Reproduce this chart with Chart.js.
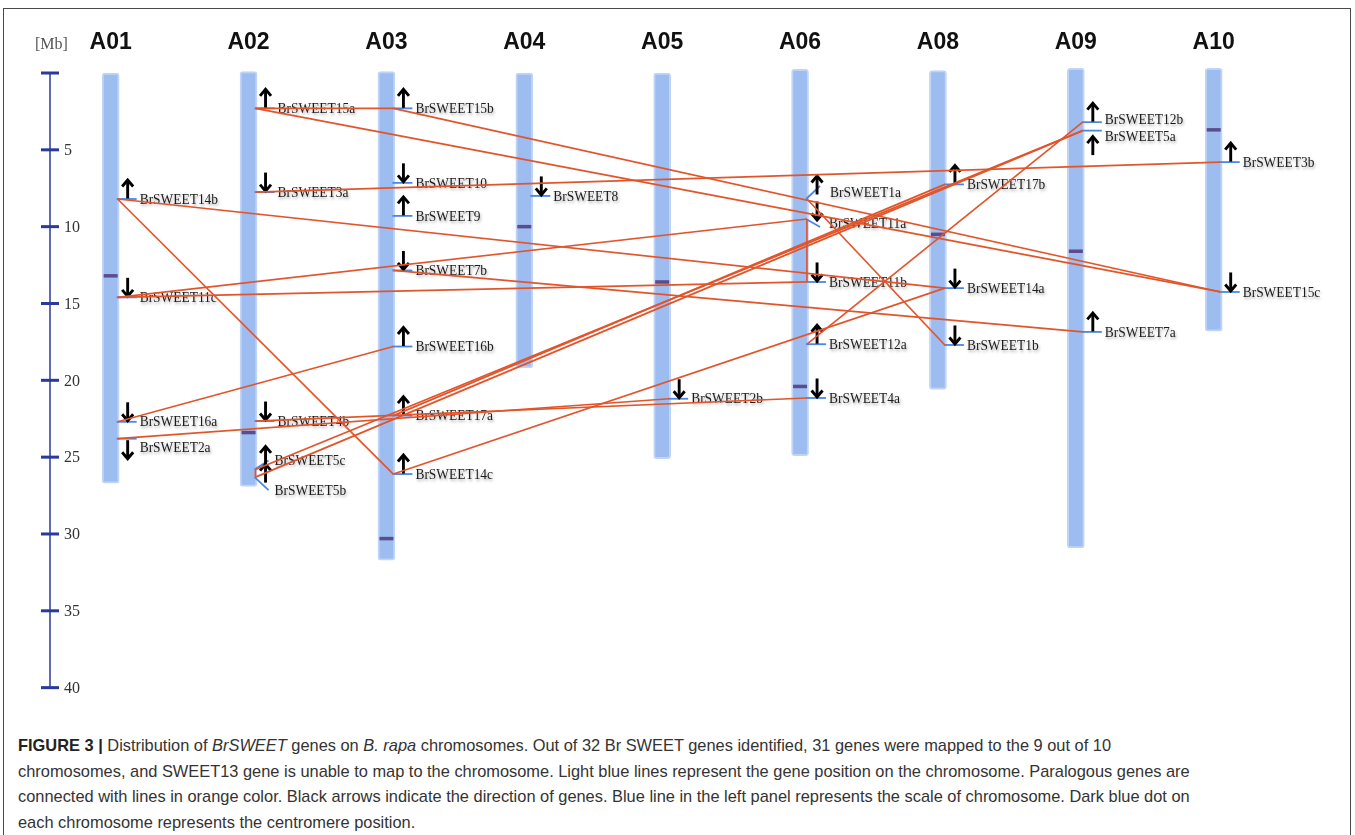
<!DOCTYPE html>
<html>
<head>
<meta charset="utf-8">
<title>Distribution of BrSWEET genes on B. rapa chromosomes</title>
<script src="https://cdn.jsdelivr.net/npm/chart.js@4.4.1/dist/chart.umd.min.js"></script>
<style>
  html, body { margin: 0; padding: 0; background: #fff; }
  body { width: 1355px; height: 835px; position: relative; overflow: hidden; }
  #frame {
    position: absolute; left: 3px; top: 8px; width: 1348px; height: 860px;
    border-left: 1.5px solid #4a4a4a; border-top: 1.5px solid #4a4a4a; border-right: 1.5px solid #4a4a4a;
    box-sizing: border-box;
  }
  #wrap { position: absolute; left: 0; top: 0; width: 1355px; height: 720px; }
  #caption {
    position: absolute; left: 18px; top: 733px; white-space: nowrap;
    font-family: "Liberation Sans", Arial, sans-serif; font-size: 16.4px; line-height: 25.5px; color: #333;
  }
  #caption b { color: #222; }
</style>
</head>
<body>
<div id="frame"></div>
<div id="wrap"><canvas id="chart"></canvas></div>
<div id="caption">
  <b>FIGURE 3 |</b> Distribution of <i>BrSWEET</i> genes on <i>B. rapa</i> chromosomes. Out of 32 Br SWEET genes identified, 31 genes were mapped to the 9 out of 10<br>
  chromosomes, and SWEET13 gene is unable to map to the chromosome. Light blue lines represent the gene position on the chromosome. Paralogous genes are<br>
  connected with lines in orange color. Black arrows indicate the direction of genes. Blue line in the left panel represents the scale of chromosome. Dark blue dot on<br>
  each chromosome represents the centromere position.
</div>
<script>
// Chromosomes (Mb)
const CHROMOSOMES   = ['A01', 'A02', 'A03', 'A04', 'A05', 'A06', 'A08', 'A09', 'A10'];
const CHROM_START   = [0.0, -0.1, -0.1, 0.0, 0.0, -0.24, -0.15, -0.3, -0.3];
const CHROM_END     = [26.7, 26.9, 31.7, 19.2, 25.1, 24.9, 20.6, 30.9, 16.8];
const CENTROMERE_MB = [13.2, 23.4, 30.3, 10.0, 13.6, 20.4, 10.5, 11.6, 3.7];

// Genes: name, chromosome index, position (Mb), strand (1 = forward, -1 = reverse)
const GENE_NAMES = [
  'BrSWEET14b', 'BrSWEET11c', 'BrSWEET16a', 'BrSWEET2a',
  'BrSWEET15a', 'BrSWEET3a', 'BrSWEET4b', 'BrSWEET5c', 'BrSWEET5b',
  'BrSWEET15b', 'BrSWEET10', 'BrSWEET9', 'BrSWEET7b', 'BrSWEET16b', 'BrSWEET17a', 'BrSWEET14c',
  'BrSWEET8',
  'BrSWEET2b',
  'BrSWEET1a', 'BrSWEET11a', 'BrSWEET11b', 'BrSWEET12a', 'BrSWEET4a',
  'BrSWEET17b', 'BrSWEET14a', 'BrSWEET1b',
  'BrSWEET12b', 'BrSWEET5a', 'BrSWEET7a',
  'BrSWEET3b', 'BrSWEET15c'
];
const GENE_CHROM = [
  0, 0, 0, 0,
  1, 1, 1, 1, 1,
  2, 2, 2, 2, 2, 2, 2,
  3,
  4,
  5, 5, 5, 5, 5,
  6, 6, 6,
  7, 7, 7,
  8, 8
];
const GENE_MB = [
  8.2, 14.6, 22.7, 23.8,
  2.3, 7.75, 22.65, 25.8, 26.3,
  2.3, 7.15, 9.3, 12.85, 17.8, 22.3, 26.1,
  8.0,
  21.2,
  8.2, 9.5, 13.6, 17.65, 21.15,
  7.25, 14.0, 17.7,
  3.2, 3.75, 16.85,
  5.8, 14.25
];
const GENE_STRAND = [
  1, -1, -1, -1,
  1, -1, -1, 1, 1,
  1, -1, 1, -1, 1, 1, 1,
  -1,
  -1,
  1, -1, -1, 1, -1,
  1, -1, -1,
  1, 1, 1,
  1, -1
];

// Paralogous gene pairs
const PARALOG_PAIRS = [
  ['BrSWEET15a', 'BrSWEET15b'], ['BrSWEET15a', 'BrSWEET15c'], ['BrSWEET15b', 'BrSWEET15c'],
  ['BrSWEET3a', 'BrSWEET3b'],
  ['BrSWEET14b', 'BrSWEET14a'], ['BrSWEET14b', 'BrSWEET14c'], ['BrSWEET14c', 'BrSWEET14a'],
  ['BrSWEET11c', 'BrSWEET11a'], ['BrSWEET11c', 'BrSWEET11b'], ['BrSWEET11a', 'BrSWEET11b'],
  ['BrSWEET16a', 'BrSWEET16b'],
  ['BrSWEET2a', 'BrSWEET2b'], ['BrSWEET4b', 'BrSWEET4a'],
  ['BrSWEET7b', 'BrSWEET7a'],
  ['BrSWEET17a', 'BrSWEET17b'],
  ['BrSWEET5c', 'BrSWEET5a'], ['BrSWEET5b', 'BrSWEET5a'], ['BrSWEET5c', 'BrSWEET5b'],
  ['BrSWEET1a', 'BrSWEET1b'],
  ['BrSWEET12a', 'BrSWEET12b']
];

// Scale bar
const SCALE_TICKS  = [0, 5, 10, 15, 20, 25, 30, 35, 40];
const SCALE_LABELS = ['', '5', '10', '15', '20', '25', '30', '35', '40'];
const SCALE_UNIT = '[Mb]';

// ---- styling / layout (pixels) ----
const LINK_DX = 0.05;          // link anchor: right edge of the chromosome, in x units
const RULER_AT = -0.44;        // x position of the scale bar
const TICK_X0 = 6, TICK_X1 = 26, ARROW_X = 17, LABEL_X = 29;
// hand-placed labels/arrows where genes are crowded
const PLACEMENT = {
  BrSWEET2a:  { label: 9,  arrow: 11 },
  BrSWEET5a:  { label: 6,  arrow: 15 },
  BrSWEET5c:  { label: -9, tick: -9, arrow: -14, lx: -3 },
  BrSWEET5b:  { label: 13, tick: 13, arrow: -4, lx: -3 },
  BrSWEET1a:  { label: -7, tick: -13, arrow: -14, lx: 1 },
  BrSWEET11a: { label: 4,  tick: 8,  arrow: -8 },
  BrSWEET12b: { label: -3 }
};

const SERIF = '"Liberation Serif", "Times New Roman", serif';
const geneIndex = Object.fromEntries(GENE_NAMES.map((n, i) => [n, i]));

const linkDatasets = PARALOG_PAIRS.map(([a, b]) => {
  const ia = geneIndex[a], ib = geneIndex[b];
  return {
    type: 'line',
    label: a + ' - ' + b,
    data: [
      { x: GENE_CHROM[ia] + LINK_DX, y: GENE_MB[ia] },
      { x: GENE_CHROM[ib] + LINK_DX, y: GENE_MB[ib] }
    ],
    borderColor: '#e2552b',
    borderWidth: 1.7,
    pointRadius: 0,
    fill: false,
    order: 0,
    clip: false
  };
});

function drawArrow(ctx, x, yc, up) {
  const half = 9.5;
  const tip = up ? yc - half : yc + half;
  const tail = up ? yc + half : yc - half;
  const s = up ? 1 : -1;
  ctx.beginPath();
  ctx.moveTo(x, tail);
  ctx.lineTo(x, tip + s * 1.5);
  ctx.stroke();
  ctx.beginPath();
  ctx.moveTo(x - 5.5, tip + s * 7);
  ctx.lineTo(x, tip + s * 0.5);
  ctx.lineTo(x + 5.5, tip + s * 7);
  ctx.stroke();
}

const genePlugin = {
  id: 'genes',
  afterDatasetDraw(chart, args) {
    if (args.index !== 1) return;  // right after the centromeres, beneath the links
    const ctx = chart.ctx, xs = chart.scales.x, ys = chart.scales.y;
    GENE_NAMES.forEach((name, i) => {
      const p = PLACEMENT[name] || {};
      const cx = xs.getPixelForValue(GENE_CHROM[i]);
      const gy = ys.getPixelForValue(GENE_MB[i]);
      // gene position tick
      ctx.save();
      ctx.strokeStyle = '#4a86e8';
      ctx.lineWidth = 1.8;
      ctx.beginPath();
      ctx.moveTo(cx + TICK_X0, gy);
      ctx.lineTo(cx + TICK_X1 + (p.tick ? -6 : 0), gy + (p.tick || 0));
      ctx.stroke();
      // strand arrow
      ctx.strokeStyle = '#000';
      ctx.lineWidth = 2.9;
      drawArrow(ctx, cx + ARROW_X, gy + (p.arrow !== undefined ? p.arrow : -10), GENE_STRAND[i] > 0);
      // gene name
      ctx.font = '14px ' + SERIF;
      ctx.fillStyle = '#1c1c1c';
      ctx.textBaseline = 'middle';
      ctx.textAlign = 'left';
      ctx.shadowColor = 'rgba(0,0,0,0.35)';
      ctx.shadowBlur = 3;
      ctx.shadowOffsetX = 1;
      ctx.shadowOffsetY = 2;
      ctx.translate(cx + LABEL_X + (p.lx || 0), gy + 1 + (p.label || 0));
      ctx.scale(0.96, 1);
      ctx.fillText(name, 0, 0);
      ctx.restore();
    });
  }
};

const rulerPlugin = {
  id: 'ruler',
  afterDraw(chart) {
    const ctx = chart.ctx, xs = chart.scales.x, ys = chart.scales.y;
    const rx = xs.getPixelForValue(RULER_AT);
    ctx.save();
    ctx.strokeStyle = '#2a3a9c';
    ctx.lineWidth = 1.5;
    ctx.beginPath();
    ctx.moveTo(rx, ys.getPixelForValue(SCALE_TICKS[0]));
    ctx.lineTo(rx, ys.getPixelForValue(SCALE_TICKS[SCALE_TICKS.length - 1]));
    ctx.stroke();
    ctx.lineWidth = 3;
    ctx.font = '16px ' + SERIF;
    ctx.fillStyle = '#333';
    ctx.textBaseline = 'middle';
    ctx.textAlign = 'left';
    SCALE_TICKS.forEach((v, i) => {
      const y = ys.getPixelForValue(v);
      ctx.beginPath();
      ctx.moveTo(rx - 9, y);
      ctx.lineTo(rx + 9, y);
      ctx.stroke();
      ctx.fillText(SCALE_LABELS[i], rx + 14, y + 1);
    });
    ctx.fillStyle = '#555';
    ctx.fillText(SCALE_UNIT, rx - 15, 45);
    ctx.restore();
  }
};

new Chart(document.getElementById('chart'), {
  type: 'bar',
  data: {
    datasets: [
      {
        type: 'bar',
        label: 'Chromosome',
        data: CHROM_START.map((s, i) => ({ x: i, y: [s, CHROM_END[i]] })),
        backgroundColor: '#9dbcf0',
        borderColor: 'rgba(185,207,246,0.9)',
        borderWidth: 2,
        borderSkipped: false,
        borderRadius: 3,
        barThickness: 17,
        order: 2
      },
      {
        type: 'line',
        label: 'Centromere',
        data: CENTROMERE_MB.map((c, i) => ({ x: i, y: c })),
        showLine: false,
        pointStyle: 'line',
        pointRadius: 7,
        pointBorderWidth: 3.5,
        pointBorderColor: '#5b4c8c',
        pointBackgroundColor: '#5b4c8c',
        order: 1
      },
      ...linkDatasets
    ]
  },
  options: {
    responsive: true,
    maintainAspectRatio: false,
    animation: false,
    devicePixelRatio: 1,
    layout: { padding: { left: 42, right: 31, top: 0, bottom: 17 } },
    plugins: { legend: { display: false }, tooltip: { enabled: false } },
    scales: {
      x: {
        type: 'linear',
        position: 'top',
        offset: false,
        min: -0.498,
        max: 8.8,
        grid: { display: false, drawTicks: false, offset: false },
        border: { display: false },
        afterBuildTicks: (s) => { s.ticks = CHROMOSOMES.map((_, i) => ({ value: i })); },
        afterFit: (s) => { s.height = 56; },
        ticks: {
          padding: 0,
          autoSkip: false,
          maxRotation: 0,
          color: '#111',
          font: { family: '"Liberation Sans", Arial, sans-serif', size: 23, weight: 'bold' },
          callback: (v) => CHROMOSOMES[v]
        }
      },
      y: {
        type: 'linear',
        reverse: true,
        min: -1.106,
        max: 41,
        display: false
      }
    }
  },
  plugins: [genePlugin, rulerPlugin]
});
</script>
</body>
</html>
